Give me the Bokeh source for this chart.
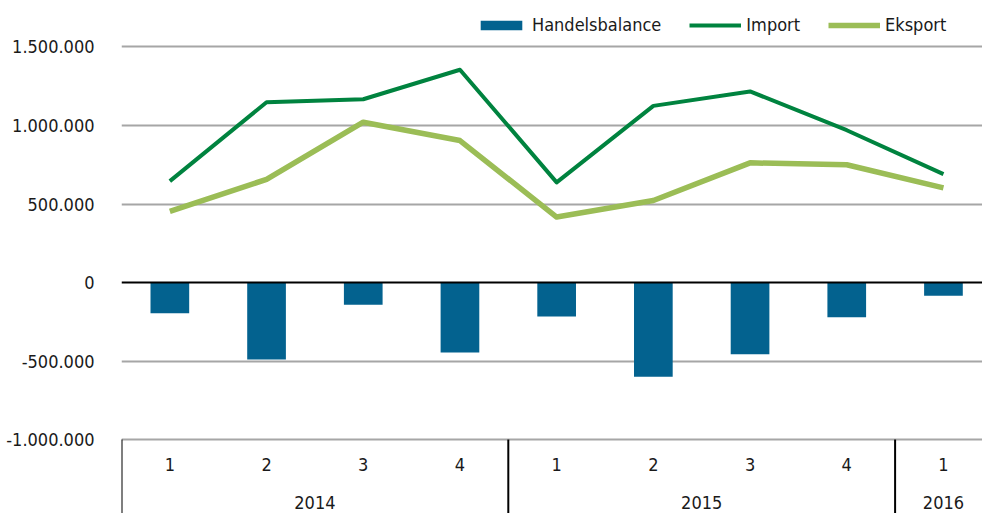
from bokeh.plotting import figure
from bokeh.models import Range1d, FixedTicker, Legend, LegendItem, Span, ColumnDataSource
from bokeh.core.properties import value
from bokeh.embed import file_html
from bokeh.resources import INLINE

# ---- data ----
years = ["2014", "2014", "2014", "2014", "2015", "2015", "2015", "2015", "2016"]
quarters = ["1", "2", "3", "4", "1", "2", "3", "4", "1"]
handelsbalance = [-196000, -490000, -141000, -446000, -217000, -600000, -457000, -221000, -84000]
import_vals = [646000, 1148000, 1167000, 1355000, 638000, 1125000, 1217000, 970000, 690000]
export_vals = [453000, 657000, 1021000, 904000, 417000, 522000, 762000, 750000, 603000]
y_ticks = [-1000000, -500000, 0, 500000, 1000000, 1500000]
y_tick_labels = ["-1.000.000", "-500.000", "0", "500.000", "1.000.000", "1.500.000"]

FONT = "DejaVu Sans Condensed"
FS = "18px"
BAR_C = "#03628F"
IMP_C = "#00833F"
EXP_C = "#9BBD56"
TXT_C = "#1a1a1a"

n = len(quarters)
xs = list(range(n))

p = figure(width=982, height=513, output_backend="svg", toolbar_location=None,
           x_range=Range1d(-0.5, -0.5 + 861 / 96.7),
           y_range=Range1d(-1471000, 1796000),
           x_axis_location=None, min_border_left=121, min_border_right=0,
           min_border_top=0, min_border_bottom=0)
p.outline_line_color = None
p.background_fill_color = "white"
p.border_fill_color = "white"

# y axis
yax = p.yaxis[0]
yax.ticker = FixedTicker(ticks=y_ticks)
yax.major_label_overrides = {t: l for t, l in zip(y_ticks, y_tick_labels)}
yax.axis_line_color = None
yax.major_tick_line_color = None
yax.minor_tick_line_color = None
yax.major_label_standoff = 21
yax.major_label_text_font = FONT
yax.major_label_text_font_size = FS
yax.major_label_text_color = TXT_C

p.xgrid.visible = False
p.ygrid.ticker = FixedTicker(ticks=[t for t in y_ticks if t != 0])
p.ygrid.grid_line_color = "#A6A6A6"
p.ygrid.grid_line_width = 2

src = ColumnDataSource(dict(x=xs, bal=handelsbalance, imp=import_vals, exp=export_vals))

bars = p.vbar(x="x", top="bal", bottom=0, width=0.4, source=src, fill_color=BAR_C, line_color=None)
p.add_layout(Span(location=0, dimension="width", line_color="black", line_width=2, level="glyph"))
imp = p.line(x="x", y="imp", source=src, line_color=IMP_C, line_width=4, line_join="round")
exp = p.line(x="x", y="exp", source=src, line_color=EXP_C, line_width=5.5, line_join="round")

# category labels below the axis
axis_min = y_ticks[0]
p.text(x=xs, y=[axis_min] * n, text=quarters, y_offset=25, text_align="center",
       text_baseline="middle", text_font=value(FONT), text_font_size=FS, text_color=TXT_C)

groups = []
for i, yr in enumerate(years):
    if not groups or groups[-1][0] != yr:
        groups.append([yr, i, i])
    else:
        groups[-1][2] = i
p.text(x=[(g[1] + g[2]) / 2 for g in groups], y=[axis_min] * len(groups), text=[g[0] for g in groups],
       y_offset=63, text_align="center", text_baseline="middle", text_font=value(FONT),
       text_font_size=FS, text_color=TXT_C)
sep_x = [g[1] - 0.5 for g in groups]
p.segment(x0=sep_x, x1=sep_x, y0=[axis_min] * len(sep_x), y1=[p.y_range.start] * len(sep_x),
          line_color="black", line_width=2)

legend = Legend(items=[LegendItem(label="Handelsbalance", renderers=[bars]),
                       LegendItem(label="Import", renderers=[imp]),
                       LegendItem(label="Eksport", renderers=[exp])],
                orientation="horizontal", location=(354, 478))
legend.glyph_width = 52
legend.glyph_height = 12
legend.label_standoff = 5
legend.spacing = 28
legend.padding = 0
legend.margin = 0
legend.border_line_color = None
legend.background_fill_alpha = 0
legend.label_text_font = FONT
legend.label_text_font_size = FS
legend.label_text_color = TXT_C
legend.label_height = 20
p.add_layout(legend)

open("out.html", "w").write(file_html(p, INLINE))
